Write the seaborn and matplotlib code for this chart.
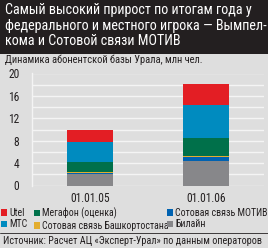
import numpy as np
import matplotlib
matplotlib.use('Agg')
import matplotlib.pyplot as plt
import matplotlib.patches as mpatches
from matplotlib import font_manager as fm
import seaborn as sns

# Data (mln subscribers), bottom to top of each stack
dates = ['01.01.05', '01.01.06']
operators = ['Билайн', 'Сотовая связь МОТИВ', 'Сотовая связь Башкортостана',
             'Мегафон (оценка)', 'МТС', 'Utel']
beeline = [2.0, 4.4]
motiv = [0.23, 0.7]
bashkort = [0.18, 0.23]
megafon = [1.8, 3.15]
mts = [3.5, 5.85]
utel = [2.15, 3.8]
colors = ['#87878a', '#0062b1', '#e3ad2f', '#00704a', '#008bbf', '#e31e24']

sns.set_style('white')
have = {f.name for f in fm.fontManager.ttflist}
if 'Roboto Condensed' in have:
    plt.rcParams['font.family'] = ['Roboto Condensed', 'DejaVu Sans']
    k = 1.0
else:
    plt.rcParams['font.family'] = ['DejaVu Sans']
    plt.rcParams['font.stretch'] = 'condensed'
    k = 0.85

fig = plt.figure(figsize=(2.68, 2.48), dpi=100)
fig.patch.set_facecolor('#dedede')

# dark title box
fig.patches.append(mpatches.Rectangle((0, 1 - 54 / 248), 1, 54 / 248, transform=fig.transFigure,
                                      facecolor='#231f20', edgecolor='none', zorder=0))
fig.text(5 / 268, 1 - 3 / 248, 'Самый высокий прирост по итогам года у\nфедерального и местного игрока — Вымпел-\nкома и Сотовой связи МОТИВ',
         color='white', fontsize=10.2 * k, va='top', ha='left', linespacing=1.15)
fig.text(5 / 268, 1 - 59.5 / 248, 'Динамика абонентской базы Урала, млн чел.',
         color='#231f20', fontsize=7.6 * k, va='center', ha='left')

ax = fig.add_axes([32 / 268, 62.5 / 248, 232 / 268, 112 / 248])
ax.set_facecolor('#dedede')

series = [beeline, motiv, bashkort, megafon, mts, utel]
bottom = np.zeros(len(dates))
for name, vals, c in zip(operators, series, colors):
    sns.barplot(x=dates, y=vals, ax=ax, color=c, bottom=bottom, width=0.4,
                saturation=1, edgecolor='none', zorder=3)
    bottom = bottom + np.array(vals)

ax.set_xlim(-0.5, 1.5)
ax.set_ylim(0, 20)
ax.set_yticks(np.arange(0, 21, 4))
ax.set_yticks(np.arange(0, 21, 2), minor=True)
ax.grid(axis='y', which='both', color='#f4f4f4', linewidth=1, zorder=1)
ax.tick_params(axis='both', which='both', length=0, colors='#231f20')
ax.tick_params(axis='y', pad=9, labelsize=8.3 * k)
ax.tick_params(axis='x', pad=5, labelsize=8.3 * k)
for s in ['top', 'right', 'bottom']:
    ax.spines[s].set_visible(False)
ax.spines['left'].set_color('#f4f4f4')
ax.spines['left'].set_linewidth(1)
ax.set_xlabel('')
ax.set_ylabel('')

# legend: three one-column blocks, rows Utel/Мегафон/МОТИВ and МТС/Башкортостан/Билайн
legend_cols = [[5, 4], [3, 2], [1, 0]]
col_x = [1, 34, 167]
for idx, x0 in zip(legend_cols, col_x):
    handles = [mpatches.Patch(facecolor=colors[i], edgecolor='none', label=operators[i]) for i in idx]
    fig.legend(handles=handles, ncol=1, loc='upper left', bbox_to_anchor=(x0 / 268, 1 - 207.5 / 248),
               frameon=False, fontsize=7.1 * k, handlelength=0.6, handleheight=0.7,
               handletextpad=0.2, labelspacing=0.2, borderpad=0, borderaxespad=0,
               labelcolor='#231f20')

fig.add_artist(plt.Line2D([0, 1], [1 - 233 / 248, 1 - 233 / 248], transform=fig.transFigure,
                          color='#231f20', linewidth=0.6))
fig.text(3 / 268, 1 - 241 / 248, 'Источник: Расчет АЦ «Эксперт-Урал» по данным операторов',
         color='#231f20', fontsize=7.25 * k, va='center', ha='left')

fig.savefig('out.png', dpi=100, facecolor=fig.get_facecolor())
